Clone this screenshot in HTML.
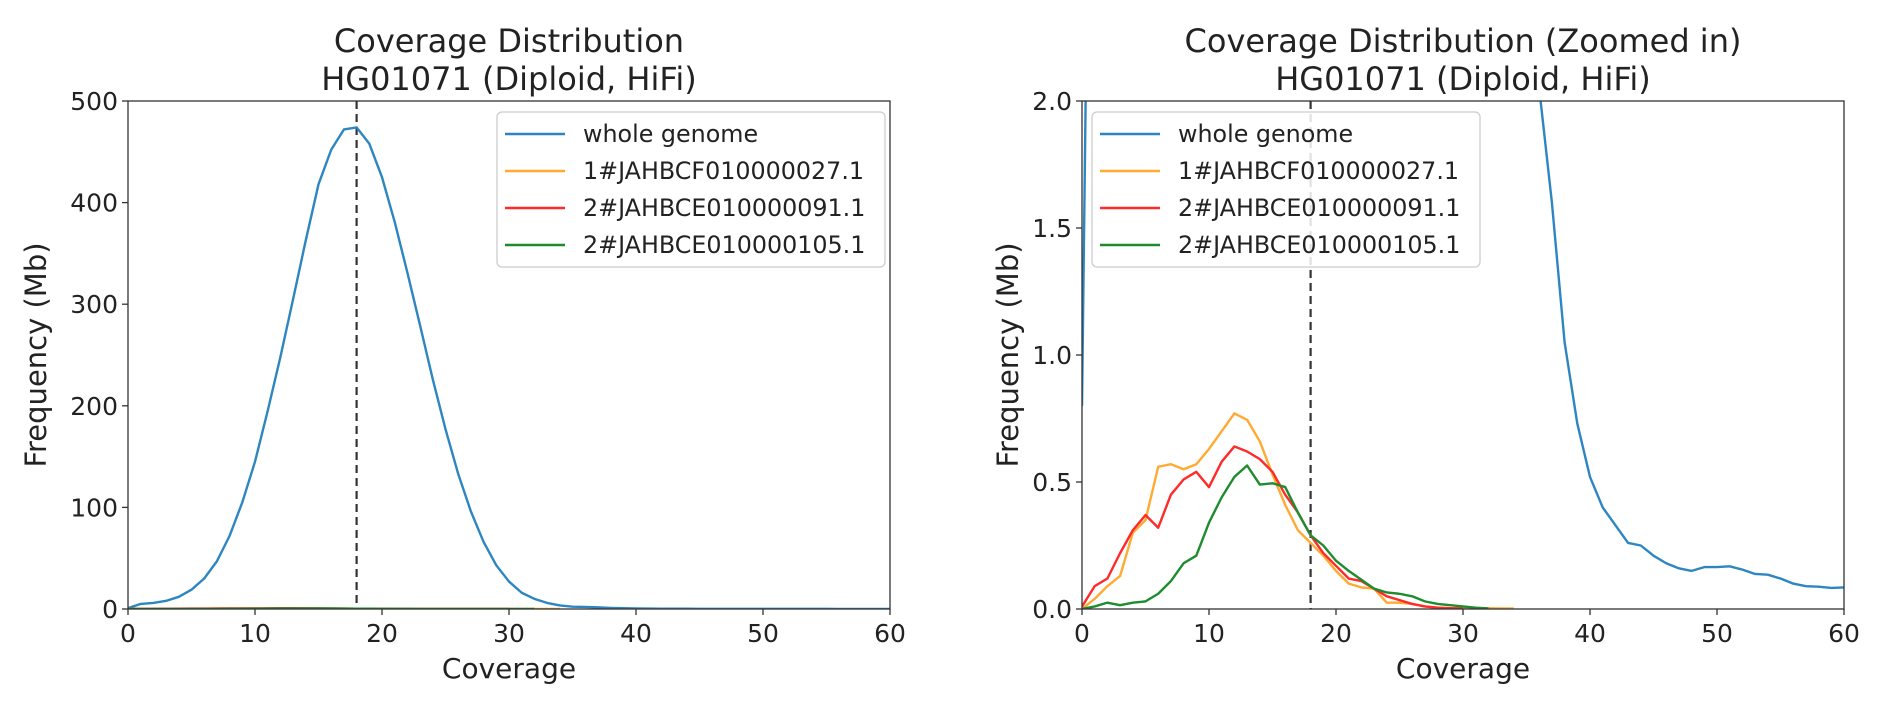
<!DOCTYPE html>
<html><head><meta charset="utf-8">
<style>
html,body{margin:0;padding:0;background:#fff;}
svg{display:block;font-family:"DejaVu Sans","Liberation Sans",sans-serif;}
</style></head>
<body>
<svg id="fig" width="1877" height="717" viewBox="0 0 1877 717" xmlns="http://www.w3.org/2000/svg"></svg>
<script>
const coverage = [];
for (let i = 0; i <= 60; i++) coverage.push(i);
const wholeGenome = [0.8,5,6,8,12,19,30,47,72,105,145,195,248,305,363,418,452,472,474,458,425,381,331,279,226,177,133,96,66,43,27,16,10,6,3.5,2.3,2.05,1.6,1.05,0.73,0.52,0.4,0.33,0.26,0.25,0.21,0.18,0.16,0.15,0.165,0.165,0.168,0.155,0.138,0.135,0.12,0.1,0.09,0.088,0.083,0.085];
const seqOrange = [0.0,0.04,0.09,0.13,0.30,0.35,0.56,0.57,0.55,0.57,0.63,0.70,0.77,0.745,0.66,0.53,0.41,0.31,0.26,0.21,0.15,0.10,0.085,0.08,0.025,0.025,0.02,0.01,0.005,0.003,0.003,0.003,0.003,0.002,0.002];
const seqRed = [0.01,0.09,0.12,0.22,0.31,0.37,0.32,0.45,0.51,0.54,0.48,0.58,0.64,0.62,0.59,0.54,0.45,0.38,0.29,0.22,0.17,0.12,0.11,0.08,0.05,0.035,0.02,0.01,0.005,0.003,0.002];
const seqGreen = [0.0,0.01,0.025,0.015,0.025,0.03,0.06,0.11,0.18,0.21,0.34,0.44,0.52,0.565,0.49,0.495,0.48,0.38,0.29,0.25,0.19,0.15,0.115,0.08,0.065,0.06,0.05,0.03,0.02,0.015,0.01,0.005,0.002];
const xTicks = [0,10,20,30,40,50,60];
const yTicksLeft = [0,100,200,300,400,500];
const yTicksRight = [0,0.5,1.0,1.5,2.0];
const yTickLabelsRight = ["0.0","0.5","1.0","1.5","2.0"];
const meanCoverage = 18;
const seriesNames = ["whole genome","1#JAHBCF010000027.1","2#JAHBCE010000091.1","2#JAHBCE010000105.1"];

const NS = "http://www.w3.org/2000/svg";
const svg = document.getElementById('fig');
function mk(tag, attrs, parent){
  const e = document.createElementNS(NS, tag);
  for (const k in attrs) e.setAttribute(k, attrs[k]);
  (parent||svg).appendChild(e);
  return e;
}
const colors = ["#2e86c1","#ffaa33","#ff2a2a","#1e8c2e"];
const seriesData = [wholeGenome, seqOrange, seqRed, seqGreen];

function drawPanel(id, L, R, T, B, ymax, yTicks, yLabels, titleLines, legendX, yLabelX){
  const g = mk('g', {});
  
  
  const sx = v => L + (v/60)*(R-L);
  const sy = v => B - (v/ymax)*(B-T);
  const cp = mk('clipPath', {id: id+'-clip'}, g);
  mk('rect', {x:L, y:T, width:R-L, height:B-T}, cp);
  const plot = mk('g', {'clip-path':'url(#'+id+'-clip)'}, g);
  const dl = mk('line', {x1:sx(meanCoverage), x2:sx(meanCoverage), y1:T, y2:B, stroke:'#333', 'stroke-width':2.2, 'stroke-dasharray':'8,5'}, plot);
  
  
  seriesData.forEach((arr, si) => {
    const pts = arr.map((v,i) => sx(coverage[i]).toFixed(2)+','+sy(v).toFixed(2)).join(' ');
    const pl = mk('polyline', {points:pts, fill:'none', stroke:colors[si], 'stroke-width':2.4, 'stroke-linejoin':'round'}, plot);
    
    
  });
  const fr = mk('rect', {x:L, y:T, width:R-L, height:B-T, fill:'none', stroke:'#333', 'stroke-width':1.3}, g);
  
  
  xTicks.forEach(t => {
    mk('line', {x1:sx(t), x2:sx(t), y1:B, y2:B+6, stroke:'#333', 'stroke-width':1.3}, g);
    const tx = mk('text', {x:sx(t), y:B+33, 'text-anchor':'middle', 'font-size':25, fill:'#222'}, g);
    tx.textContent = t;
    
    
  });
  yTicks.forEach((t, i) => {
    mk('line', {x1:L-6, x2:L, y1:sy(t), y2:sy(t), stroke:'#333', 'stroke-width':1.3}, g);
    const tx = mk('text', {x:L-10, y:sy(t)+9, 'text-anchor':'end', 'font-size':25, fill:'#222'}, g);
    tx.textContent = yLabels[i];
    
    
  });
  const xl = mk('text', {x:(L+R)/2, y:678, 'text-anchor':'middle', 'font-size':28, fill:'#222'}, g);
  xl.textContent = 'Coverage';
  
  
  const yx = yLabelX;
  const yl = mk('text', {x:yx, y:(T+B)/2, 'text-anchor':'middle', 'font-size':29, fill:'#222', transform:'rotate(-90 '+yx+' '+((T+B)/2)+')'}, g);
  yl.textContent = 'Frequency (Mb)';
  
  
  titleLines.forEach((s, i) => {
    const tt = mk('text', {x:(L+R)/2, y:52+i*38, 'text-anchor':'middle', 'font-size':32, fill:'#222'}, g);
    tt.textContent = s;
    
    
  });
  const lg = mk('g', {}, g);
  
  
  mk('rect', {x:legendX, y:112, width:388, height:155, rx:5, fill:'#fff', 'fill-opacity':0.85, stroke:'#ccc', 'stroke-width':1.3}, lg);
  seriesNames.forEach((n, i) => {
    const y = 134 + i*37;
    const ent = mk('g', {}, lg);
    
    
    mk('line', {x1:legendX+8, x2:legendX+68, y1:y, y2:y, stroke:colors[i], 'stroke-width':2.6}, ent);
    const lt = mk('text', {x:legendX+86, y:y+8, 'font-size':23.8, fill:'#222'}, ent);
    lt.textContent = n;
  });
}
drawPanel('left-chart', 128, 890, 101, 609, 500, yTicksLeft, yTicksLeft.map(String), ['Coverage Distribution','HG01071 (Diploid, HiFi)'], 497, 46);
drawPanel('right-chart', 1082, 1844, 101, 609, 2.0, yTicksRight, yTickLabelsRight, ['Coverage Distribution (Zoomed in)','HG01071 (Diploid, HiFi)'], 1092, 1018);
</script>
</body></html>
